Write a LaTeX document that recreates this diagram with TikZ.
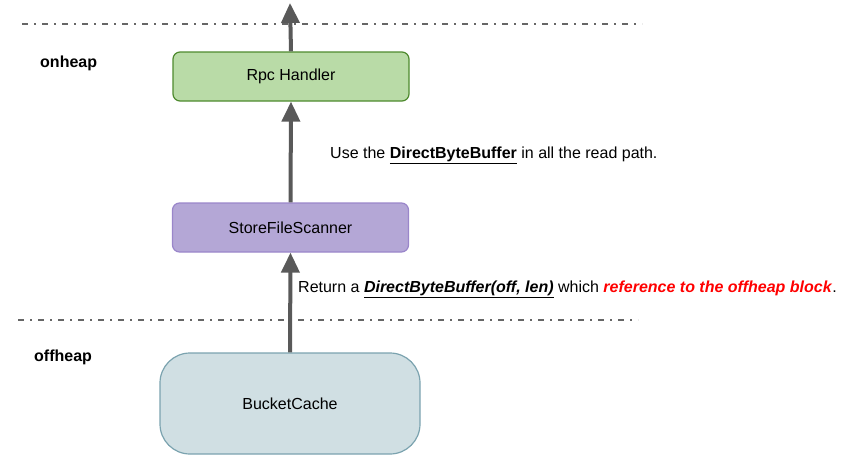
\documentclass[tikz,border=0pt]{standalone}
\usepackage{fontspec}
\setmainfont{Liberation Sans}
\usetikzlibrary{arrows.meta}
\definecolor{flowgray}{HTML}{595959}
\definecolor{sepgray}{HTML}{666666}
\definecolor{rpcfill}{HTML}{B9DBA7}
\definecolor{rpcdraw}{HTML}{4E8A2E}
\definecolor{sfsfill}{HTML}{B4A7D6}
\definecolor{sfsdraw}{HTML}{9A86CA}
\definecolor{bcfill}{HTML}{D0DFE3}
\definecolor{bcdraw}{HTML}{7BA3AF}
\definecolor{hotred}{HTML}{FF0000}
\begin{document}
\begin{tikzpicture}[x=1pt,y=-1pt,
  box/.style={draw, line width=1.2pt, rounded corners=7pt, minimum width=236pt, minimum height=49pt, inner sep=0pt, font=\fontsize{16}{19}\selectfont},
  flow/.style={draw=flowgray, line width=4pt, -{Triangle[width=18pt,length=20pt]}},
  sep/.style={draw=sepgray, line width=1.4pt, dash pattern=on 6pt off 6pt on 2pt off 6pt},
  heap/.style={font=\fontsize{16}{19}\selectfont\bfseries, anchor=west, inner sep=0pt},
  note/.style={font=\fontsize{16}{19}\selectfont, anchor=west, inner sep=0pt}]
\useasboundingbox (0,0) rectangle (846,456);

% heap boundaries
\coordinate (topL) at (22,24);
\coordinate (topR) at (642,24);
\coordinate (botL) at (18,320);
\coordinate (botR) at (638,320);
\draw[sep] (topL) -- (topR);
\draw[sep] (botL) -- (botR);

% region labels
\node[heap] (onheap) at (40,63) {onheap};
\node[heap] (offheap) at (34,357) {offheap};

% components
\node[box, fill=rpcfill, draw=rpcdraw] (rpc) at (291,76.5) {Rpc Handler};
\node[box, fill=sfsfill, draw=sfsdraw] (sfs) at (290.5,227.5) {StoreFileScanner};
\node[box, fill=bcfill, draw=bcdraw, minimum width=260pt, minimum height=101pt, rounded corners=30pt] (bc) at (290,403.5) {BucketCache};

% data flow
\coordinate (out) at (290,3);
\draw[flow] (bc.north) -- (sfs.south);
\draw[flow] (sfs.north) -- (rpc.south);
\draw[flow] (rpc.north) -- (out);

% annotations
\node[note] (usenote) at (330,155) {Use the \textbf{\underline{DirectByteBuffer}} in all the read path.};
\node[note] (retnote) at (298,289) {Return a \textbf{\textit{\underline{DirectByteBuffer(off, len)}}} which \textcolor{hotred}{\textbf{\textit{reference to the offheap block}}}.};
\end{tikzpicture}
\end{document}
